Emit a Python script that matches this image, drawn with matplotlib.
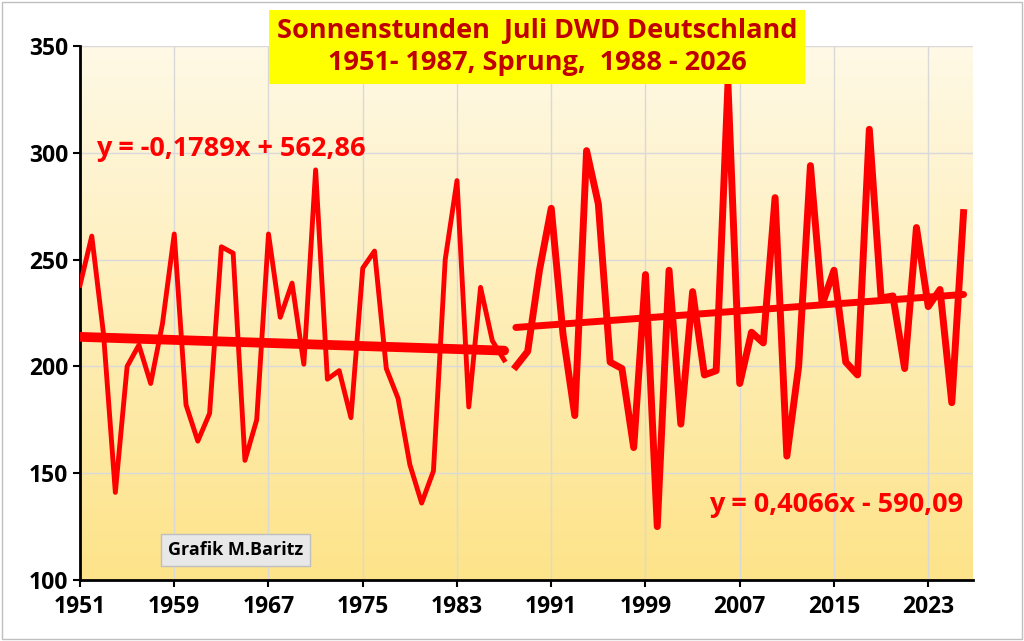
import numpy as np
import matplotlib.pyplot as plt
from matplotlib.colors import LinearSegmentedColormap

years1 = np.arange(1951, 1988)
sun1 = [238, 261, 215, 141, 200, 210, 192, 220, 262, 182, 165, 178, 256, 253, 156, 175,
        262, 223, 239, 201, 292, 194, 198, 176, 246, 254, 199, 185, 154, 136, 151, 250,
        287, 181, 237, 212, 203]
years2 = np.arange(1988, 2027)
sun2 = [200, 207, 245, 274, 215, 177, 301, 276, 202, 199, 162, 243, 125, 245, 173, 235,
        196, 198, 332, 192, 216, 211, 279, 158, 200, 294, 229, 245, 202, 196, 311, 232,
        233, 199, 265, 228, 236, 183, 272]
trend1 = (-0.1789, 562.86)
trend2 = (0.4066, -590.09)
xticks = list(range(1951, 2024, 8))
yticks = list(range(100, 351, 50))

dark = "#c00000"
fig = plt.figure(figsize=(10.24, 6.41), dpi=100)
ax = fig.add_axes([80 / 1024, 1 - 580 / 641, 893 / 1024, 534 / 641])
x0, x1 = 1951, 2026.8
ax.set_xlim(x0, x1)
ax.set_ylim(100, 350)

# background gradient
grad = np.linspace(0, 1, 256).reshape(-1, 1)
cm = LinearSegmentedColormap.from_list("bg", ["#fde389", "#fff9e6"])
ax.imshow(grad, cmap=cm, aspect="auto", extent=[x0, x1, 100, 350], origin="lower", zorder=0)

ax.set_xticks(xticks)
ax.set_yticks(yticks)
ax.grid(color="#d9d9d9", lw=1, zorder=1)
ax.tick_params(labelsize=16.5, length=5, width=1.5, direction="out")
for lbl in ax.get_xticklabels() + ax.get_yticklabels():
    lbl.set_fontweight("bold")
    lbl.set_family("Open Sans")
ax.tick_params(axis="x", pad=6)
for s in ["top", "right"]:
    ax.spines[s].set_visible(False)
ax.spines["left"].set_linewidth(2)
ax.spines["bottom"].set_linewidth(2)

ax.plot(years1, sun1, color="red", lw=3.5, zorder=3)
ax.plot(years2, sun2, color="red", lw=5, zorder=3, clip_on=False)
t1x = np.array([years1[0], years1[-1]])
ax.plot(t1x, trend1[0] * t1x + trend1[1], color="red", lw=7, zorder=4, solid_capstyle="round")
t2x = np.array([years2[0], years2[-1]])
ax.plot(t2x, trend2[0] * t2x + trend2[1], color="red", lw=5, zorder=4, solid_capstyle="round")

ax.text(1952.4, 302, "y = -0,1789x + 562,86", color="red", fontsize=19.5, fontweight="bold",
        family="Open Sans", zorder=5, va="center")
ax.text(2026, 135, "y = 0,4066x - 590,09", color="red", fontsize=19.5, fontweight="bold",
        family="Open Sans", zorder=5, va="center", ha="right")
ax.text(1964.2, 114, "Grafik M.Baritz", fontsize=13, fontweight="bold", family="Open Sans",
        ha="center", va="center", zorder=5,
        bbox=dict(boxstyle="square,pad=0.4", fc="#e8e8e8", ec="#bfbfbf"))

fig.text(537 / 1024, 1 - 47 / 641, "Sonnenstunden  Juli DWD Deutschland\n1951- 1987, Sprung,  1988 - 2026",
         color=dark, fontsize=19.5, fontweight="bold", family="Open Sans", ha="center", va="center",
         linespacing=1.3, bbox=dict(boxstyle="square,pad=0.3", fc="#ffff00", ec="none"), zorder=10)

fig.patches.append(plt.Rectangle((0.002, 0.003), 0.996, 0.994, transform=fig.transFigure,
                                 fill=False, ec="#bfbfbf", lw=1))
fig.savefig("out.png", dpi=100)
